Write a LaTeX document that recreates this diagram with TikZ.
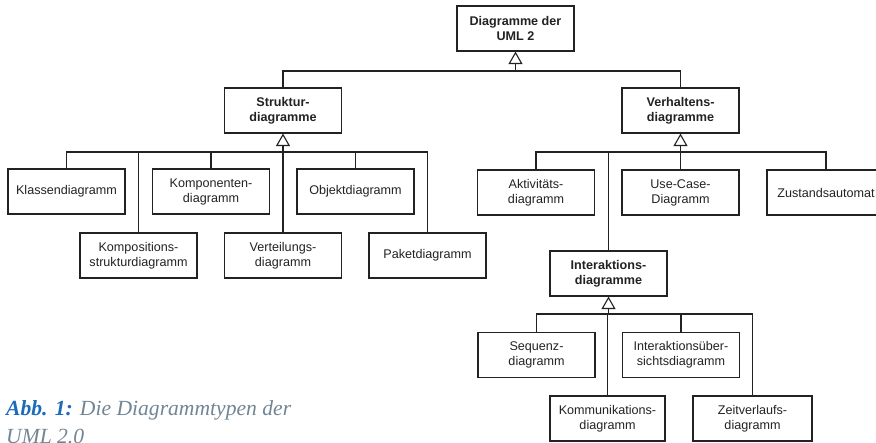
\documentclass[tikz,border=0pt]{standalone}
\usepackage{fontspec}
\setmainfont{Liberation Serif}
\newfontfamily\boxfont{Liberation Sans}
\usetikzlibrary{arrows.meta}

\definecolor{capblue}{HTML}{1C6AB8}
\definecolor{capgray}{HTML}{718595}
\definecolor{ink}{HTML}{222222}

\tikzset{
  umlbox/.style={draw=ink, line width=1.2pt, inner sep=0pt, align=center,
    minimum width=117pt, minimum height=45pt, text=ink,
    font=\boxfont\fontsize{12.6}{15}\selectfont},
  umlhead/.style={umlbox, font=\boxfont\bfseries\fontsize{12.6}{15}\selectfont},
  wire/.style={draw=ink, line width=1.2pt},
  gen/.style={wire, -{Triangle[open, length=12.5pt, width=14pt, line width=1.1pt]}},
}

\begin{document}
\begin{tikzpicture}[x=1pt, y=-1pt]
  \useasboundingbox (0,0) rectangle (876,443);
  \clip (0,0) rectangle (876,443);

  % top level
  \node[umlhead] (root) at (515.5,28.5) {Diagramme der\\UML 2};
  \node[umlhead] (struktur) at (283,110.5) {Struktur-\\diagramme};
  \node[umlhead] (verhalten) at (680.5,110.5) {Verhaltens-\\diagramme};

  % structure diagrams
  \node[umlbox] (klassen) at (66.5,191.5) {Klassendiagramm};
  \node[umlbox] (komponenten) at (211,191.5) {Komponenten-\\diagramm};
  \node[umlbox] (objekt) at (355.5,191.5) {Objektdiagramm};
  \node[umlbox] (komposition) at (138.5,255.5) {Kompositions-\\strukturdiagramm};
  \node[umlbox] (verteilung) at (283,255.5) {Verteilungs-\\diagramm};
  \node[umlbox] (paket) at (427.5,255.5) {Paketdiagramm};

  % behaviour diagrams
  \node[umlbox] (aktivitaet) at (536,192.5) {Aktivitäts-\\diagramm};
  \node[umlbox] (usecase) at (680.5,192.5) {Use-Case-\\Diagramm};
  \node[umlbox, minimum width=118pt] (zustand) at (826,192.5) {Zustandsautomat};
  \node[umlhead] (interaktion) at (608.5,273.5) {Interaktions-\\diagramme};

  % interaction diagrams
  \node[umlbox] (sequenz) at (536.5,355) {Sequenz-\\diagramm};
  \node[umlbox] (uebersicht) at (681,355) {Interaktionsüber-\\sichtsdiagramm};
  \node[umlbox, minimum width=115pt] (kommunikation) at (607.5,418.5) {Kommunikations-\\diagramm};
  \node[umlbox, minimum width=119pt] (zeitverlauf) at (752.5,418.5) {Zeitverlaufs-\\diagramm};

  % bus junctions below each parent
  \coordinate (rbus) at (515.5,71);
  \coordinate (sbus) at (283,152);
  \coordinate (vbus) at (680.5,152);
  \coordinate (ibus) at (608.5,314);

  % generalisation arrows
  \draw[gen] (rbus) -- (root.south);
  \draw[gen] (sbus) -- (struktur.south);
  \draw[gen] (vbus) -- (verhalten.south);
  \draw[gen] (ibus) -- (interaktion.south);

  % bus wiring
  \foreach \c in {struktur, verhalten}
    \draw[wire] (\c.north) |- (rbus);
  \foreach \c in {klassen, komponenten, objekt, komposition, verteilung, paket}
    \draw[wire] (\c.north) |- (sbus);
  \foreach \c in {aktivitaet, usecase, zustand, interaktion}
    \draw[wire] (\c.north) |- (vbus);
  \foreach \c in {sequenz, uebersicht, kommunikation, zeitverlauf}
    \draw[wire] (\c.north) |- (ibus);

  % caption (second line runs off the lower edge)
  \node[anchor=base west, inner sep=0pt, align=left,
        font=\itshape\fontsize{21.6}{28}\selectfont, text=capgray] (caption) at (6,444)
    {\textcolor{capblue}{\bfseries Abb. 1:} Die Diagrammtypen der\\UML 2.0};
\end{tikzpicture}
\end{document}
